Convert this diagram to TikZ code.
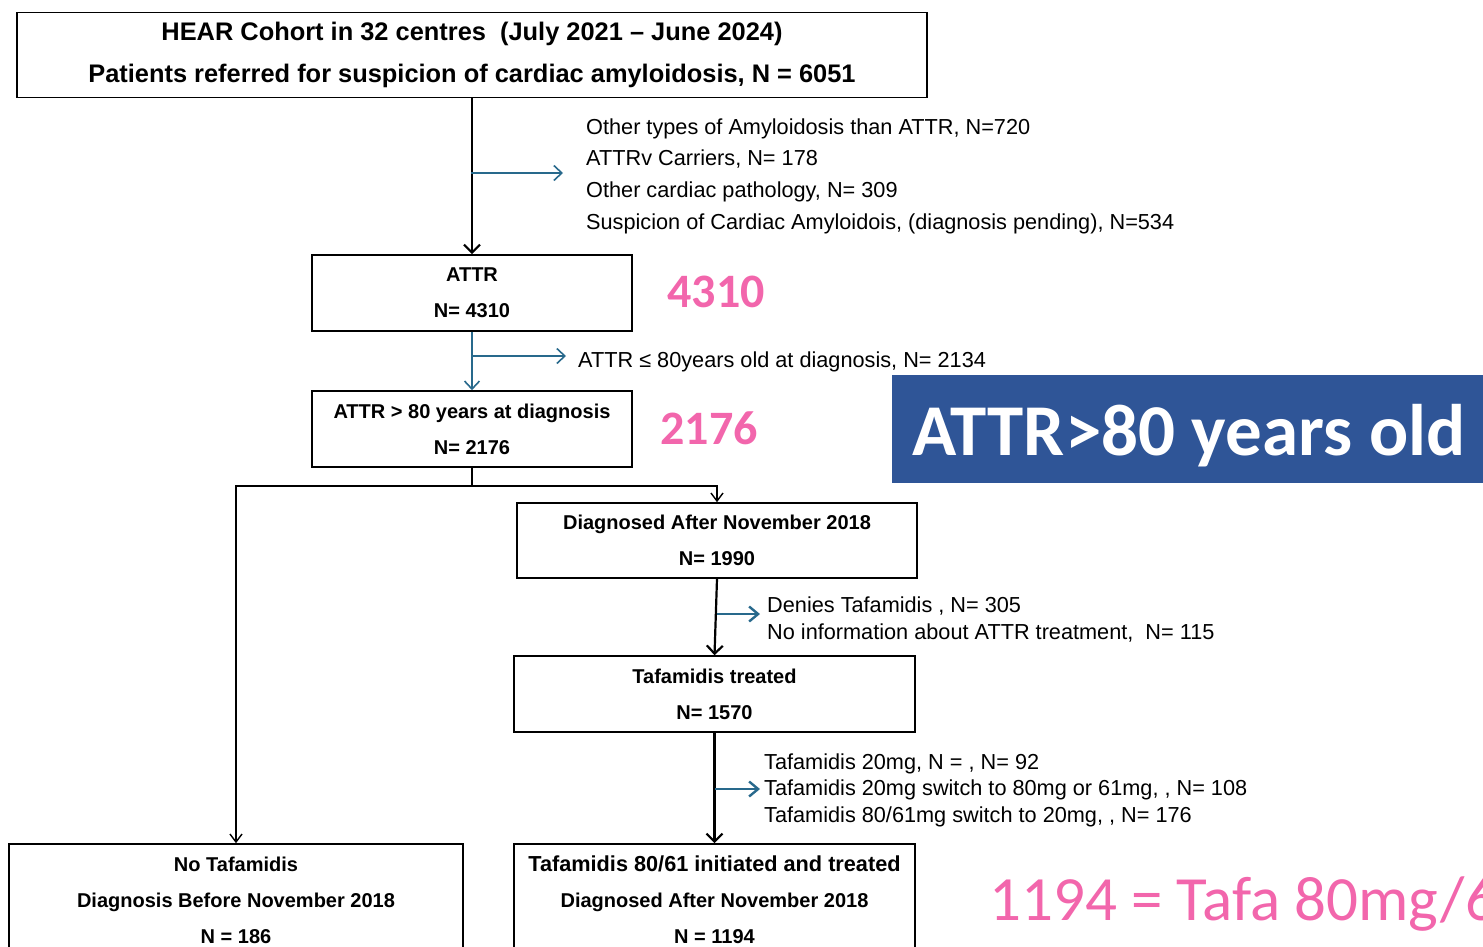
\documentclass[tikz,border=0pt]{standalone}
\usepackage{fontspec}
\setmainfont{Liberation Sans}
\newfontfamily\calfont{Carlito}
\usetikzlibrary{arrows.meta}

\definecolor{flowblue}{RGB}{40,105,140}
\definecolor{countpink}{RGB}{242,102,172}
\definecolor{bannerblue}{RGB}{47,85,151}

\tikzset{
    flowbox/.style={
        rectangle,
        draw=black,
        line width=1.6pt,
        align=center,
        inner sep=0pt,
        font=\fontsize{20}{36}\selectfont\bfseries
    },
    note/.style={
        anchor=west,
        align=left,
        inner sep=0pt,
        font=\fontsize{21.7}{31.7}\selectfont
    },
    count/.style={
        text=countpink,
        inner sep=0pt,
        font=\calfont\bfseries\fontsize{48}{48}\selectfont
    },
    mainarrow/.style={
        line width=2.2pt,
        -{Straight Barb[length=8pt,width=16pt,line width=2.2pt]}
    },
    forkarrow/.style={
        line width=1.4pt,
        -{Straight Barb[length=8pt,width=12pt,line width=1.4pt]}
    },
    sidearrow/.style={
        flowblue,
        line width=1.6pt,
        -{Straight Barb[length=8pt,width=15pt,line width=1.6pt]}
    },
    boldside/.style={
        flowblue,
        line width=2.4pt,
        -{Straight Barb[length=9pt,width=15pt,line width=2.4pt]}
    }
}

\begin{document}
\begin{tikzpicture}[x=1pt,y=-1pt]
        \useasboundingbox (0,0) rectangle (1483,946);
        \clip (0,0) rectangle (1483,946);
        % Boxes
        \node[flowbox, minimum width=910pt, minimum height=85pt,
              font=\fontsize{25.4}{42}\selectfont\bfseries]
            (hear) at (472,55)
            {\raisebox{-2pt}{HEAR Cohort in 32 centres~ (July 2021 -- June 2024)}\\
             \raisebox{-2pt}{Patients referred for suspicion of cardiac amyloidosis, N = 6051}};
        \node[flowbox, minimum width=320pt, minimum height=76pt]
            (attr) at (472,293) {ATTR\\N= 4310};
        \node[flowbox, minimum width=320pt, minimum height=76pt]
            (old) at (472,429) {ATTR > 80 years at diagnosis\\N= 2176};
        \node[flowbox, minimum width=400pt, minimum height=75pt]
            (after) at (717,540.5) {Diagnosed After November 2018\\N= 1990};
        \node[flowbox, minimum width=401pt, minimum height=76pt]
            (treated) at (714.5,694) {Tafamidis treated\\N= 1570};
        \node[flowbox, minimum width=454pt, minimum height=112pt]
            (notafa) at (236,900)
            {No Tafamidis\\Diagnosis Before November 2018\\N = 186};
        \node[flowbox, minimum width=401pt, minimum height=112pt]
            (tafa) at (714.5,900)
            {{\fontsize{21.7}{36}\selectfont Tafamidis 80/61 initiated and treated}\\
             Diagnosed After November 2018\\N = 1194};
        % Side notes
        \node[note] (others) at (586,176)
            {Other types of Amyloidosis than ATTR, N=720\\
             ATTRv Carriers, N= 178\\
             Other cardiac pathology, N= 309\\
             Suspicion of Cardiac Amyloidois, (diagnosis pending), N=534};
        \node[note] (young) at (578,362)
            {ATTR ≤ 80years old at diagnosis, N= 2134};
        \node[note, font=\fontsize{21.7}{27}\selectfont] (deny) at (767,619.5)
            {Denies Tafamidis , N= 305\\
             No information about ATTR treatment,~ N= 115};
        \node[note, font=\fontsize{21.7}{26.5}\selectfont] (switch) at (764,790)
            {Tafamidis 20mg, N = , N= 92\\
             Tafamidis 20mg switch to 80mg or 61mg, , N= 108\\
             Tafamidis 80/61mg switch to 20mg, , N= 176};
        % Counts
        \node[count] (count-attr) at (716,292) {4310};
        \node[count] (count-old) at (709,428) {2176};
        \node[anchor=north west, fill=bannerblue, inner sep=0pt,
              minimum width=600pt, minimum height=108pt]
            (banner) at (892,375) {};
        \node[anchor=base west, text=white, inner sep=0pt,
              font=\calfont\bfseries\fontsize{73}{73}\selectfont]
            (banner-text) at (912,455) {ATTR>80 years old};
        \node[anchor=west, text=countpink, inner sep=0pt,
              font=\calfont\fontsize{63}{63}\selectfont]
            (count-tafa) at (989,904) {1194 = Tafa 80mg/6};
        % Main flow
        \draw[mainarrow] (hear.south) -- (attr.north);
        \draw[sidearrow] (attr.south) -- (old.north);
        \draw[line width=1.4pt] (old.south) -- ++(0,18) coordinate (fork);
        \draw[forkarrow] (fork) -| (after.north);
        \draw[forkarrow] (fork) -| (notafa.north);
        \draw[mainarrow] (after.south) -- (treated.north);
        \draw[mainarrow] (treated.south) -- (tafa.north);
        % Exclusions
        \coordinate (cut-hear) at (471,173);
        \coordinate (cut-attr) at (472,356);
        \coordinate (cut-after) at (717,614);
        \coordinate (cut-treated) at (715,789);
        \draw[sidearrow, shorten >=23pt] (cut-hear) -- (cut-hear -| others.west);
        \draw[sidearrow, shorten >=12pt] (cut-attr) -- (cut-attr -| young.west);
        \draw[boldside, shorten >=7pt] (cut-after) -- (cut-after -| deny.west);
        \draw[boldside, shorten >=4pt] (cut-treated) -- (cut-treated -| switch.west);
    \end{tikzpicture}
\end{document}
